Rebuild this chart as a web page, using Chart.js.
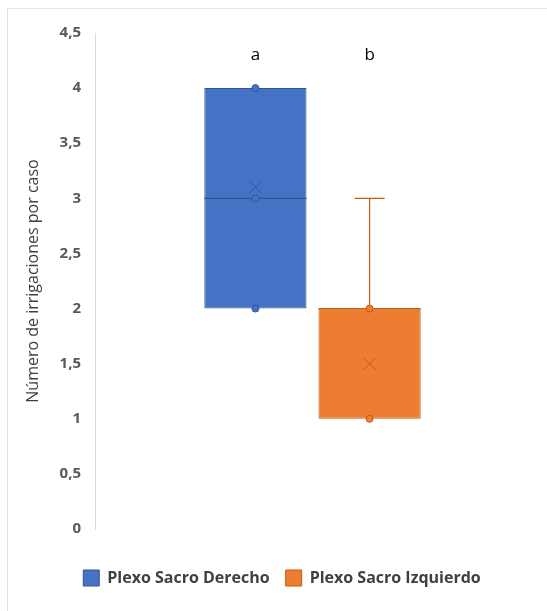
<!DOCTYPE html>
<html>
<head>
<meta charset="utf-8">
<script src="https://cdn.jsdelivr.net/npm/chart.js@4.4.0/dist/chart.umd.min.js"></script>
<style>
  body { margin: 0; background: #fff; }
  #wrap { position: relative; width: 547px; height: 611px; }
</style>
</head>
<body>
<div id="wrap"><canvas id="myCanvas" width="547" height="611"></canvas></div>
<script>
// box plot data
const groups = ['Plexo Sacro Derecho', 'Plexo Sacro Izquierdo'];
const mins = [2, 1];
const q1 = [2, 1];
const medians = [3, 2];
const q3 = [4, 2];
const maxs = [4, 3];
const means = [3.1, 1.5];
const points = [[2, 3, 4], [1, 2]];
const letters = ['a', 'b'];
const letterY = 4.3;
const yTicks = [0, 0.5, 1, 1.5, 2, 2.5, 3, 3.5, 4, 4.5];

const fills = ['#4472C4', '#ED7D31'];
const lines = ['#2F5597', '#C55A11'];

// whiskers, median, mean, points and letters drawn over the floating bars
const boxExtras = {
  id: 'boxExtras',
  afterLayout(chart) {
    // nudge the legend a bit to the right, like the original
    chart.legend.left += 7;
    chart.legend.right += 7;
  },
  afterDatasetsDraw(chart) {
    const ctx = chart.ctx;
    const y = chart.scales.y;
    groups.forEach(function (g, i) {
      const bar = chart.getDatasetMeta(i).data[0];
      const cx = bar.x, half = bar.width / 2;
      ctx.save();
      ctx.strokeStyle = lines[i];
      ctx.lineWidth = 1.2;
      // median
      ctx.beginPath();
      ctx.moveTo(cx - half, y.getPixelForValue(medians[i]));
      ctx.lineTo(cx + half, y.getPixelForValue(medians[i]));
      ctx.stroke();
      // whiskers
      [[q3[i], maxs[i]], [q1[i], mins[i]]].forEach(function (w) {
        if (w[0] == w[1]) return;
        ctx.beginPath();
        ctx.moveTo(cx, y.getPixelForValue(w[0]));
        ctx.lineTo(cx, y.getPixelForValue(w[1]));
        ctx.moveTo(cx - 15, y.getPixelForValue(w[1]));
        ctx.lineTo(cx + 15, y.getPixelForValue(w[1]));
        ctx.stroke();
      });
      // mean X
      const my = y.getPixelForValue(means[i]);
      ctx.lineWidth = 1;
      ctx.beginPath();
      ctx.moveTo(cx - 6, my - 6); ctx.lineTo(cx + 6, my + 6);
      ctx.moveTo(cx + 6, my - 6); ctx.lineTo(cx - 6, my + 6);
      ctx.stroke();
      // points
      ctx.fillStyle = fills[i];
      points[i].forEach(function (v) {
        ctx.beginPath();
        ctx.arc(cx, y.getPixelForValue(v), 3.5, 0, Math.PI * 2);
        ctx.fill();
        ctx.stroke();
      });
      // letters
      ctx.fillStyle = '#000';
      ctx.font = '17px "Open Sans", sans-serif';
      ctx.textAlign = 'center';
      ctx.textBaseline = 'middle';
      ctx.fillText(letters[i], cx, y.getPixelForValue(letterY));
      ctx.restore();
    });
  },
  beforeDraw(chart) {
    // faint outer border of the chart
    const ctx = chart.ctx;
    ctx.save();
    ctx.strokeStyle = '#e3e3e3';
    ctx.lineWidth = 1;
    ctx.strokeRect(7.5, 8.5, 600, 700);
    ctx.restore();
  }
};

var ctx = document.getElementById('myCanvas').getContext('2d');
var myChart = new Chart(ctx, {
  type: 'bar',
  data: {
    labels: [''],
    datasets: groups.map(function (g, i) {
      return {
        label: g,
        data: [[q1[i], q3[i]]],
        backgroundColor: fills[i],
        borderColor: lines[i],
        borderWidth: 1,
        borderSkipped: false
      };
    })
  },
  options: {
    responsive: false,
    animation: false,
    categoryPercentage: 0.525,
    barPercentage: 0.895,
    layout: { padding: { top: 33, right: 17, left: 20, bottom: 15 } },
    plugins: {
      tooltip: { enabled: false },
      legend: {
        position: 'bottom',
        labels: {
          boxWidth: 16,
          boxHeight: 16,
          padding: 16,
          color: '#404040',
          font: { family: '"Open Sans", sans-serif', size: 16, weight: 'bold' }
        }
      }
    },
    scales: {
      x: {
        display: true,
        grid: { display: false, drawTicks: false },
        border: { display: false },
        ticks: { display: false },
        afterFit: function (axis) { axis.height = 25; }
      },
      y: {
        min: 0,
        max: 4.5,
        afterBuildTicks: function (axis) {
          axis.ticks = yTicks.map(function (v) { return { value: v }; });
        },
        afterFit: function (axis) { axis.width = 75; },
        grid: { display: false, drawTicks: false },
        border: { display: true, color: '#d9d9d9', width: 1 },
        ticks: {
          padding: 14,
          color: '#595959',
          font: { family: '"Open Sans", sans-serif', size: 15, weight: 'bold' },
          callback: function (v) { return String(v).replace('.', ','); }
        },
        title: {
          display: true,
          text: 'Número de irrigaciones por caso',
          color: '#404040',
          font: { family: '"Open Sans", sans-serif', size: 16 }
        }
      }
    }
  },
  plugins: [boxExtras]
});
</script>
</body>
</html>
